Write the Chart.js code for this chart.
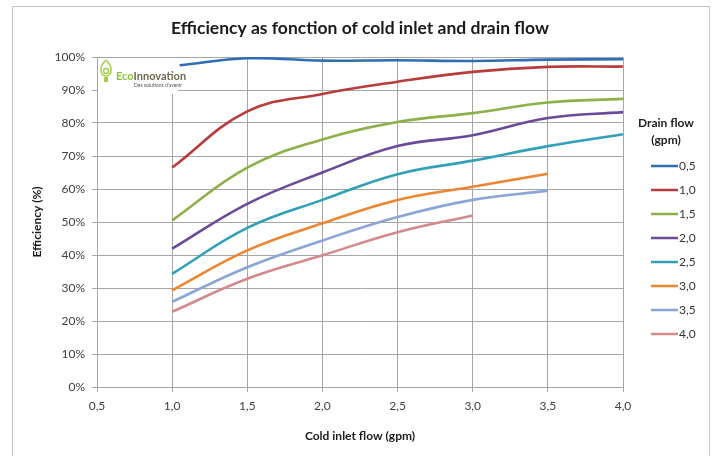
<!DOCTYPE html>
<html>
<head>
<meta charset="utf-8">
<script src="https://cdn.jsdelivr.net/npm/chart.js@4.4.1/dist/chart.umd.min.js"></script>
<style>
  html, body { margin: 0; padding: 0; background: #fff; }
  #wrap { width: 713px; height: 456px; }
</style>
</head>
<body>
<div id="wrap"><canvas id="graficoCanvas"></canvas></div>
<script>
// cold inlet flow (gpm) on the x axis
const inletFlow = [1.0, 1.5, 2.0, 2.5, 3.0, 3.5, 4.0];
const inletFlowLow = [1.05, 1.5, 2.0, 2.5, 3.0, 3.5, 4.0];

// efficiency (%) per drain flow
const drain05 = [97.5, 99.6, 98.9, 99.0, 98.8, 99.2, 99.3];
const drain10 = [66.5, 83.5, 88.8, 92.5, 95.5, 97.0, 97.1];
const drain15 = [50.5, 66.5, 75.0, 80.3, 83.0, 86.2, 87.3];
const drain20 = [41.9, 55.5, 65.0, 73.0, 76.3, 81.5, 83.3];
const drain25 = [34.3, 48.2, 56.7, 64.5, 68.6, 73.0, 76.6];
const drain30 = [29.3, 41.4, 49.6, 56.7, 60.7, 64.6];
const drain35 = [25.8, 36.3, 44.4, 51.5, 56.7, 59.5];
const drain40 = [22.8, 32.8, 39.9, 46.9, 52.0];

const drainLabels = ["0,5", "1,0", "1,5", "2,0", "2,5", "3,0", "3,5", "4,0"];
const colors = ["#2f6eb5", "#b83c3c", "#8db148", "#6b4a9a", "#31a0b8", "#ee8530", "#8aa6d6", "#d48a8a"];

const xTicks = [0.5, 1.0, 1.5, 2.0, 2.5, 3.0, 3.5, 4.0];

const chartTitle = "Efficiency as fonction of cold inlet and drain flow";
const FONT = "Lato";

function pts(xs, ys) {
    return ys.map((y, i) => ({ x: xs[i], y: y }));
}

const series = [
    pts(inletFlowLow, drain05),
    pts(inletFlow, drain10),
    pts(inletFlow, drain15),
    pts(inletFlow, drain20),
    pts(inletFlow, drain25),
    pts(inletFlow, drain30),
    pts(inletFlow, drain35),
    pts(inletFlow, drain40)
];

const frame = {
    id: "frame",
    beforeDraw(chart) {
        const c = chart.ctx;
        c.save();
        c.fillStyle = "#fff";
        c.fillRect(0, 0, chart.width, chart.height);
        c.strokeStyle = "#c4c4c4";
        c.lineWidth = 1;
        c.strokeRect(12.5, 6.5, 697, 470);
        // title
        c.fillStyle = "#1a1a1a";
        c.font = "bold 17.5px " + FONT;
        c.textAlign = "center";
        c.textBaseline = "middle";
        c.fillText(chartTitle, 360, 28);
        c.restore();
    }
};

const logo = {
    id: "logo",
    beforeDatasetsDraw(chart) {
        const c = chart.ctx;
        c.save();
        c.fillStyle = "#fff";
        c.fillRect(98, 58, 80, 36);
        // bulb
        c.strokeStyle = "#a5cf4c";
        c.lineWidth = 1.5;
        c.beginPath();
        c.moveTo(106, 60);
        c.quadraticCurveTo(100, 66, 101, 71);
        c.arc(106, 71, 5, Math.PI, 0, true);
        c.quadraticCurveTo(112, 66, 106, 60);
        c.stroke();
        c.beginPath(); c.arc(106, 71, 2.5, 0, Math.PI * 2); c.stroke();
        c.fillStyle = "#a5cf4c";
        c.fillRect(104, 77, 4, 5);
        c.textBaseline = "alphabetic";
        c.font = "bold 11px " + FONT;
        c.fillStyle = "#8cc63e";
        c.fillText("Eco", 116, 80);
        const w = c.measureText("Eco").width;
        c.fillStyle = "#6b6a52";
        c.fillText("Innovation", 116 + w, 80);
        c.font = "5px " + FONT;
        c.fillStyle = "#555";
        c.fillText("Des solutions d'avenir", 134, 87);
        c.restore();
    }
};

const legendBox = {
    id: "legendBox",
    afterDraw(chart) {
        const c = chart.ctx;
        c.save();
        c.fillStyle = "#222";
        c.textAlign = "center";
        c.textBaseline = "middle";
        c.font = "bold 12px " + FONT;
        c.fillText("Drain flow", 666, 123);
        c.fillText("(gpm)", 666, 140);
        c.font = "12px " + FONT;
        c.textAlign = "left";
        chart.data.datasets.forEach((ds, i) => {
            const y = 166 + i * 24;
            c.strokeStyle = ds.borderColor;
            c.lineWidth = 2.5;
            c.beginPath();
            c.moveTo(651, y);
            c.lineTo(678, y);
            c.stroke();
            c.fillStyle = "#333";
            c.fillText(ds.label, 679, y);
        });
        c.restore();
    }
};

const ctx = document.getElementById("graficoCanvas").getContext("2d");
new Chart(ctx, {
    type: "line",
    data: {
        datasets: series.map((d, i) => ({
            label: drainLabels[i],
            data: d,
            borderColor: colors[i],
            backgroundColor: colors[i],
            borderWidth: 2.6,
            pointRadius: 0,
            tension: 0.4,
            fill: false
        }))
    },
    options: {
        responsive: true,
        maintainAspectRatio: false,
        animation: false,
        layout: { padding: { left: 0, right: 90, top: 57, bottom: 0 } },
        plugins: {
            legend: { display: false },
            tooltip: { enabled: false },
            title: { display: false }
        },
        scales: {
            x: {
                type: "linear",
                min: 0.5,
                max: 4.0,
                afterBuildTicks(scale) {
                    scale.ticks = xTicks.map(v => ({ value: v }));
                },
                afterFit(scale) { scale.height = 69; },
                grid: { color: "#a6a6a6", lineWidth: 1, tickLength: 5, drawTicks: true },
                border: { color: "#a6a6a6" },
                ticks: {
                    color: "#404040",
                    font: { family: FONT, size: 12 },
                    padding: 7,
                    maxRotation: 0,
                    callback: v => v.toFixed(1).replace(".", ",")
                },
                title: {
                    display: true,
                    text: "Cold inlet flow (gpm)",
                    color: "#1a1a1a",
                    font: { family: FONT, size: 12, weight: "bold", lineHeight: 1.2 },
                    padding: { top: 4, bottom: 13 }
                }
            },
            y: {
                min: 0,
                max: 100,
                afterFit(scale) { scale.width = 97; },
                grid: { color: "#a6a6a6", lineWidth: 1, tickLength: 5 },
                border: { color: "#a6a6a6" },
                ticks: {
                    stepSize: 10,
                    color: "#404040",
                    font: { family: FONT, size: 12 },
                    padding: 7,
                    callback: v => v + "%"
                },
                title: {
                    display: true,
                    text: "Efficiency (%)",
                    color: "#1a1a1a",
                    font: { family: FONT, size: 12, weight: "bold", lineHeight: 1.2 },
                    padding: { top: 30, bottom: 0 }
                }
            }
        }
    },
    plugins: [frame, logo, legendBox]
});
</script>
</body>
</html>
